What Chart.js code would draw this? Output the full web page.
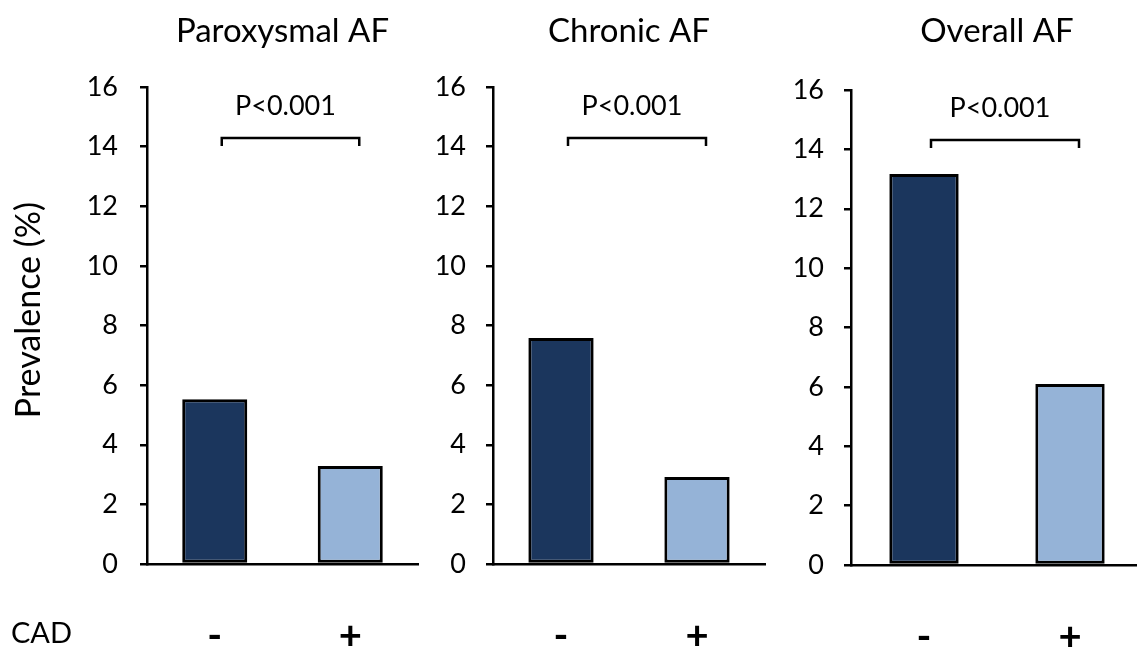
<!DOCTYPE html>
<html>
<head>
<meta charset="utf-8">
<title>Prevalence of AF by CAD</title>
<script src="https://cdn.jsdelivr.net/npm/chart.js@4.4.1/dist/chart.umd.min.js"></script>
<style>
  body { margin: 0; background: #fff; overflow: hidden; }
  canvas { position: absolute; top: 0; }
</style>
</head>
<body>
<canvas id="c1" width="420" height="651" style="left:0px"></canvas>
<canvas id="c2" width="345" height="651" style="left:425px"></canvas>
<canvas id="c3" width="368" height="651" style="left:775px"></canvas>
<script>
// data
var cadGroups = ['-', '+'];
var panelTitles = ['Paroxysmal AF', 'Chronic AF', 'Overall AF'];
var paroxysmal = [5.53, 3.29];
var chronic = [7.58, 2.92];
var overall = [13.17, 6.1];
var yTicks = [0, 2, 4, 6, 8, 10, 12, 14, 16];
var pValues = ['P<0.001', 'P<0.001', 'P<0.001'];
var bracketLevel = 14.3;
var yTitle = 'Prevalence (%)';
var groupTitle = 'CAD';

var barColors = ['#1B365D', '#95B3D7'];
var FONT = 'Lato';

// significance bracket above the bars
var bracketPlugin = {
  id: 'bracket',
  afterDatasetsDraw: function(chart, args, opts) {
    var x = chart.scales.x, y = chart.scales.y, ctx = chart.ctx;
    var x0 = x.getPixelForValue(0) + 7;
    var x1 = x.getPixelForValue(1) + 9;
    var top = Math.round(y.getPixelForValue(opts.level));
    ctx.save();
    ctx.strokeStyle = '#000';
    ctx.lineWidth = 2.5;
    ctx.beginPath();
    ctx.moveTo(x0, top + 8);
    ctx.lineTo(x0, top);
    ctx.lineTo(x1, top);
    ctx.lineTo(x1, top + 8);
    ctx.stroke();
    ctx.fillStyle = '#000';
    ctx.font = '27px ' + FONT;
    ctx.textAlign = 'center';
    ctx.textBaseline = 'alphabetic';
    ctx.fillText(opts.text, (x0 + x1) / 2 - 5, top - 23);
    ctx.restore();
  }
};

// y title and row label, only on the first panel
var sideLabels = {
  id: 'sideLabels',
  afterDraw: function(chart) {
    var ctx = chart.ctx;
    ctx.save();
    ctx.fillStyle = '#000';
    ctx.font = '34px ' + FONT;
    ctx.textAlign = 'center';
    ctx.textBaseline = 'middle';
    ctx.translate(29, 310);
    ctx.rotate(-Math.PI / 2);
    ctx.fillText(yTitle, 0, 0);
    ctx.restore();

    ctx.save();
    ctx.fillStyle = '#000';
    ctx.font = '29px ' + FONT;
    ctx.textAlign = 'left';
    ctx.textBaseline = 'middle';
    ctx.fillText(groupTitle, 11, 634);
    ctx.restore();
  }
};

function makePanel(id, title, values, cfg) {
  var plugins = [bracketPlugin];
  if (cfg.side) plugins.push(sideLabels);
  return new Chart(document.getElementById(id), {
    type: 'bar',
    data: {
      labels: cadGroups,
      datasets: [{
        data: values,
        backgroundColor: barColors,
        borderColor: '#000',
        borderWidth: 3,
        borderSkipped: false,
        barPercentage: cfg.barPct,
        categoryPercentage: 1
      }]
    },
    options: {
      responsive: false,
      animation: false,
      layout: { padding: { left: 0, right: cfg.rightPad, top: 0, bottom: 0 } },
      plugins: {
        legend: { display: false },
        tooltip: { enabled: false },
        title: {
          display: true,
          text: title,
          fullSize: false,
          color: '#000',
          font: { family: FONT, size: 33, weight: 'normal' },
          padding: { top: 12, bottom: cfg.titleBottom }
        },
        bracket: { level: bracketLevel, text: cfg.pText }
      },
      scales: {
        x: {
          grid: { display: false, drawTicks: false },
          border: { display: true, color: '#000', width: 2.5 },
          ticks: { color: '#000', font: { family: FONT, size: 40, weight: 'bold' }, padding: 48 },
          afterFit: function(s) { s.height = cfg.xHeight; }
        },
        y: {
          min: yTicks[0],
          max: yTicks[yTicks.length - 1],
          ticks: {
            stepSize: yTicks[1] - yTicks[0],
            color: '#000',
            font: { family: FONT, size: 27 },
            padding: cfg.tickPad
          },
          grid: { drawOnChartArea: false, color: '#000', lineWidth: 2.5, tickLength: 7 },
          border: { color: '#000', width: 2.5 },
          afterFit: function(s) { s.width = cfg.axisW; }
        }
      }
    },
    plugins: plugins
  });
}

makePanel('c1', panelTitles[0], paroxysmal,
  { side: true, axisW: 147, rightPad: 2, tickPad: 22, titleBottom: 35.4, xHeight: 87, barPct: 0.48, pText: pValues[0] });
makePanel('c2', panelTitles[1], chronic,
  { side: false, axisW: 68, rightPad: 5, tickPad: 20, titleBottom: 35.4, xHeight: 87, barPct: 0.48, pText: pValues[1] });
makePanel('c3', panelTitles[2], overall,
  { side: false, axisW: 76, rightPad: 0, tickPad: 20, titleBottom: 38.4, xHeight: 86, barPct: 0.475, pText: pValues[2] });
</script>
</body>
</html>
